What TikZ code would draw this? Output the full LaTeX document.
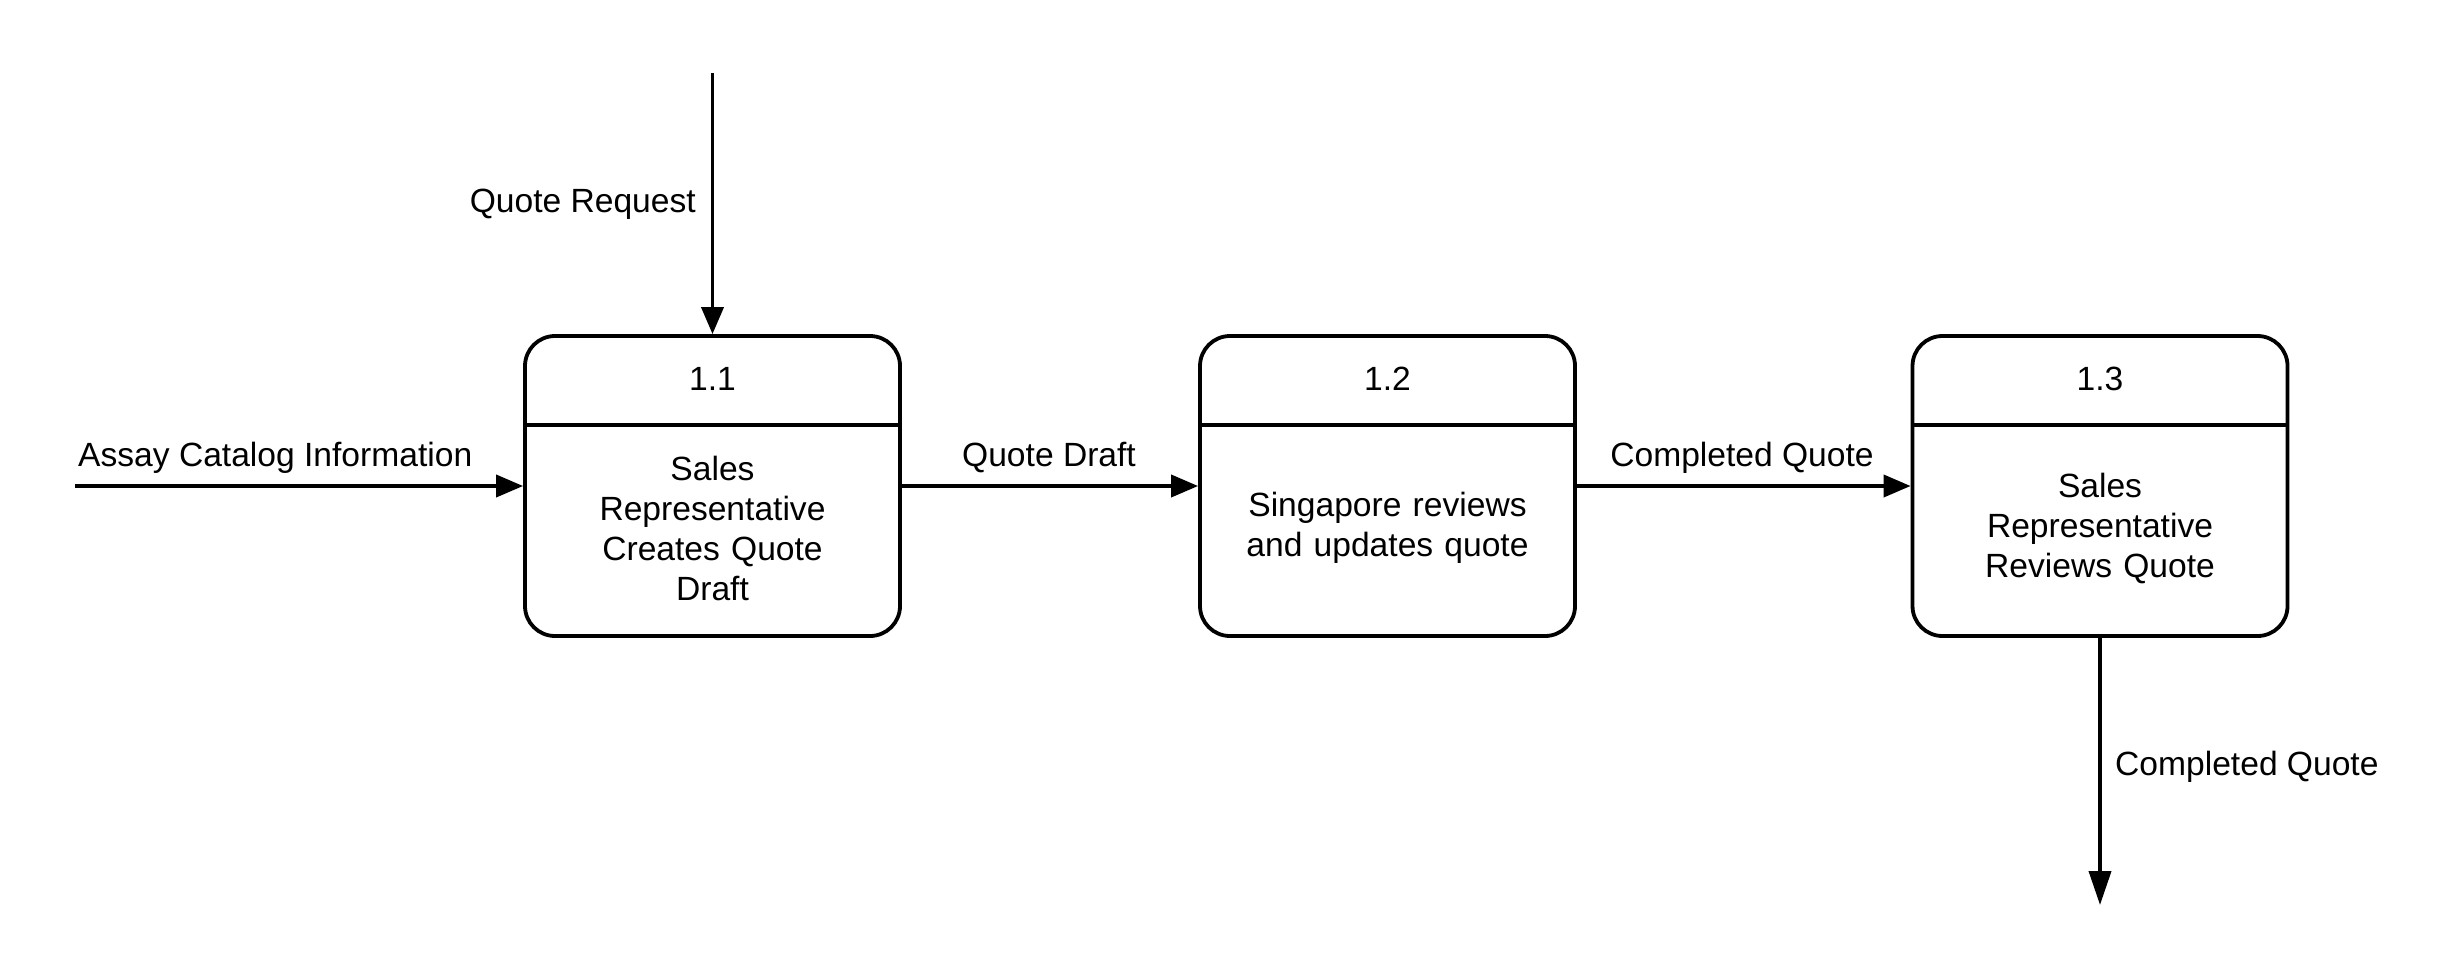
\documentclass[tikz,border=0pt]{standalone}
\usepackage{fontspec}
\setmainfont{Liberation Sans}
\usetikzlibrary{arrows.meta}
\begin{document}
\begin{tikzpicture}[x=1pt,y=-1pt,
  proc/.style={draw, line width=3.8pt, rounded corners=30pt, minimum width=375pt, minimum height=300pt, inner sep=0pt},
  flow/.style={line width=3.8pt, -{Triangle[length=27pt,width=22pt]}},
  freeflow/.style={line width=3.8pt, -{Triangle[length=34pt,width=22pt]}},
  divider/.style={line width=3.8pt},
  lbl/.style={font=\fontsize{33.6}{40}\selectfont, inner sep=0pt},
  body/.style={lbl, align=center, text width=340pt}]
\useasboundingbox (0,0) rectangle (2454,975);
% processes
\node[proc] (p1) at (712.5,486) {};
\node[proc] (p2) at (1387.5,486) {};
\node[proc] (p3) at (2100,486) {};
\foreach \p in {p1,p2,p3}{
  \draw[divider] ([yshift=-91pt]\p.north west) -- ([yshift=-91pt]\p.north east);
}
\node[lbl] (t1) at ([yshift=-45pt]p1.north) {1.1};
\node[lbl] (t2) at ([yshift=-45pt]p2.north) {1.2};
\node[lbl] (t3) at ([yshift=-45pt]p3.north) {1.3};
\node[body] (b1) at ([yshift=-42pt]p1.center) {Sales\\Representative\\Creates Quote\\Draft};
\node[body] (b2) at ([yshift=-42pt]p2.center) {Singapore reviews\\and updates quote};
\node[body] (b3) at ([yshift=-42pt]p3.center) {Sales\\Representative\\Reviews Quote};
% flows
\coordinate (src1) at (75,486);
\coordinate (src2) at (712.5,73);
\coordinate (dst) at (2100,905);
\draw[flow] (src1) -- (p1.west);
\draw[flow] (src2) -- (p1.north);
\draw[flow] (p1.east) -- (p2.west);
\draw[flow] (p2.east) -- (p3.west);
\draw[freeflow] (p3.south) -- (dst);
% labels
\node[lbl, anchor=base west] (l1) at (78,466) {Assay Catalog Information};
\node[lbl, anchor=base east] (l2) at (696,212) {Quote Request};
\node[lbl, anchor=base] (l3) at (1049,466) {Quote Draft};
\node[lbl, anchor=base] (l4) at (1742,466) {Completed Quote};
\node[lbl, anchor=base west] (l5) at (2115,775) {Completed Quote};
\end{tikzpicture}
\end{document}
